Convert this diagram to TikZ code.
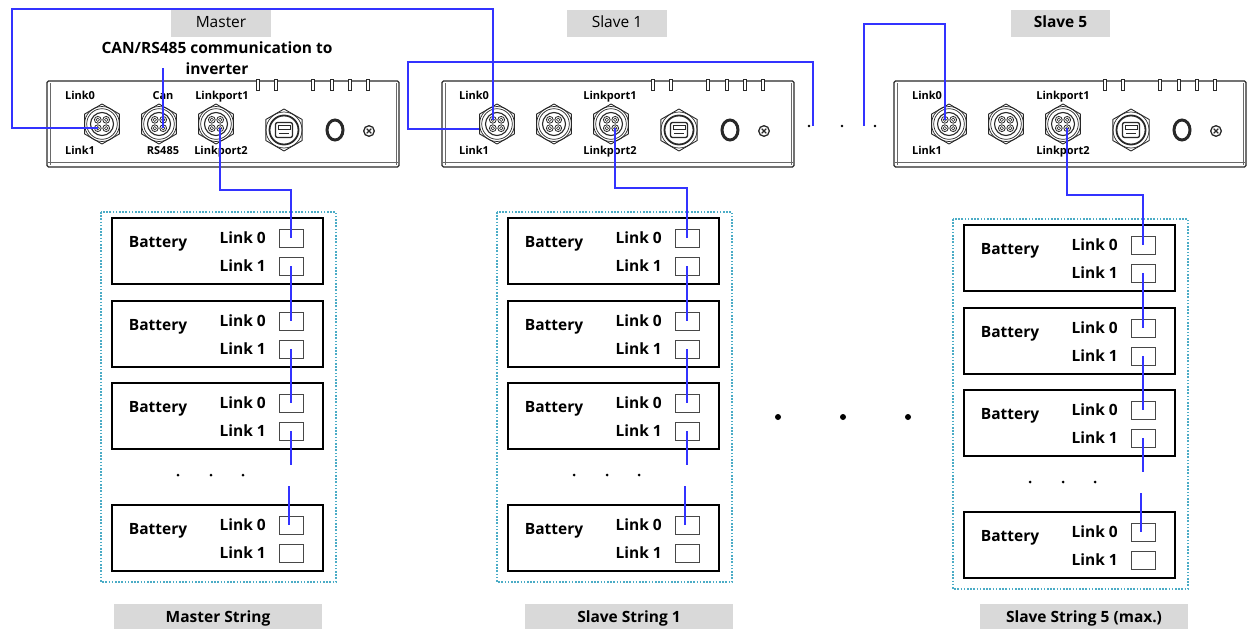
\documentclass[tikz,border=0pt]{standalone}
\usepackage{fontspec}
\setmainfont{Open Sans}
\usetikzlibrary{calc}

\definecolor{wire}{RGB}{51,51,255}
\definecolor{frame}{RGB}{75,172,198}
\definecolor{tag}{RGB}{217,217,217}
\definecolor{body}{RGB}{40,40,40}

\tikzset{
  lbl/.style={font=\fontsize{11}{13}\selectfont\bfseries, inner sep=0pt, anchor=base},
  big/.style={font=\fontsize{15.5}{19}\selectfont\bfseries, inner sep=0pt},
  tagbox/.style={fill=tag, inner sep=0pt, minimum height=27pt, text height=11.5pt, text depth=2pt},
  sq/.style={draw=body!85, line width=0.9pt, fill=white, minimum width=24pt, minimum height=18pt, inner sep=0pt},
  batbox/.style={draw=black, line width=1.4pt},
  strframe/.style={draw=frame, line width=1.3pt, dash pattern=on 1.6pt off 1.6pt},
  wthin/.style={draw=wire, line width=1.6pt},
  wmid/.style={draw=wire, line width=2.2pt},
  wthick/.style={draw=wire, line width=2.6pt},
  part/.style={draw=body, line width=0.9pt},
}

% round four-pin plug with hex nut, drawn around the origin
\newcommand\plug{%
  \draw[part, line join=round] (30:20pt) -- (90:20pt) -- (150:20pt) -- (210:20pt) -- (270:20pt) -- (330:20pt) -- cycle;
  \draw[part, line width=0.7pt] (0,0) circle (17.5pt);
  \draw[part, line width=0.7pt] (0,0) circle (15.3pt);
  \draw[part, line width=1.1pt] (0,0) circle (11.5pt);
  \foreach \px/\py in {-4.2/-4.2,4.2/-4.2,-4.2/4.2,4.2/4.2}{%
    \draw[part, line width=0.8pt] (\px,\py) circle (3.4pt);
    \draw[part, line width=0.6pt] (\px,\py) circle (1.7pt);}%
}
% USB socket with hex nut
\newcommand\usbport{%
  \draw[part, line join=round] (30:21pt) -- (90:21pt) -- (150:21pt) -- (210:21pt) -- (270:21pt) -- (330:21pt) -- cycle;
  \draw[part, line width=0.7pt] (0,0) circle (18pt);
  \draw[part, line width=1.8pt] (0,0) circle (14.5pt);
  \draw[part, line width=1.3pt, rounded corners=2pt] (-8.5,-7.5) rectangle (8.5,7.5);
  \draw[part, line width=0.7pt] (-6,-4.5) rectangle (6,-0.5);
  \draw[part, line width=0.7pt] (-5,3) -- (5,3);
}
\newcommand\oring{\draw[part, line width=3pt] (0,0) ellipse (8pt and 10pt);}
\newcommand\screwhead{%
  \draw[part, line width=1.3pt] (0,0) circle (5.3pt);
  \draw[part, line width=1.1pt] (-2.3,-2.3) -- (2.3,2.3) (-2.3,2.3) -- (2.3,-2.3);}

% control unit: #1 = left edge, #2 = name
\newcommand\device[2]{%
  \begin{scope}[shift={(#1,81)}]
    \draw[body, line width=1.2pt, rounded corners=1.5pt] (0,0) rectangle (352,86);
    \draw[body!70, line width=0.6pt] (3,2) -- (3,84) (349,2) -- (349,84) (1,81) -- (351,81);
    \foreach \tx in {211,229,266,285,303,321}
      \draw[body, line width=0.9pt, fill=white] (\tx-1.8,-1.5) rectangle (\tx+1.8,9);
    \begin{scope}[shift={(55,43)}]\plug\end{scope}
    \begin{scope}[shift={(112,43)}]\plug\end{scope}
    \begin{scope}[shift={(169,43)}]\plug\end{scope}
    \begin{scope}[shift={(237,49)}]\usbport\end{scope}
    \begin{scope}[shift={(288,49)}]\oring\end{scope}
    \begin{scope}[shift={(322,50)}]\screwhead\end{scope}
    \coordinate (#2-l0) at (51,39);
    \coordinate (#2-l1) at (51,47);
    \coordinate (#2-lside) at (37,48);
    \coordinate (#2-can) at (116,47);
    \coordinate (#2-lp2) at (173,47);
  \end{scope}}

% battery string: #1,#2 = shift, #3 = name prefix
\newcommand\batstring[3]{%
  \begin{scope}[shift={(#1,#2)}]
    \draw[strframe] (101,212) rectangle (336,582);
    \foreach \i/\y in {1/218,2/301,3/383,4/505}{
      \draw[batbox] (112,\y) rectangle (323,\y+66);
      \node[big, anchor=base] (#3\i bat) at (158,\y+29) {Battery};
      \node[big, anchor=base east] (#3\i la) at (266,\y+25.5) {Link 0};
      \node[big, anchor=base east] (#3\i lb) at (266,\y+53.5) {Link 1};
      \node[sq] (#3\i a) at (291,\y+20) {};
      \node[sq] (#3\i b) at (291,\y+48) {};
    }
    \foreach \dx in {178,211,243} \fill[black] (\dx,475) circle (1.5pt);
    \coordinate (#3gA) at (291,465);
    \coordinate (#3gB) at (289,486);
  \end{scope}}

\begin{document}
\begin{tikzpicture}[x=1pt,y=-1pt]
\useasboundingbox (0,0) rectangle (1247,629);

% control units
\device{47}{m}
\device{442}{s1}
\device{894}{s5}

% port labels
\node[lbl] (mL0) at (80,99) {Link0};
\node[lbl] (mL1) at (80,154) {Link1};
\node[lbl] (mCan) at (163,99) {Can};
\node[lbl] (mRS) at (163,154) {RS485};
\node[lbl] (mP1) at (222,99) {Linkport1};
\node[lbl] (mP2) at (221,154) {Linkport2};
\node[lbl] (aL0) at (474,99) {Link0};
\node[lbl] (aL1) at (474,154) {Link1};
\node[lbl] (aP1) at (610,99) {Linkport1};
\node[lbl] (aP2) at (610,154) {Linkport2};
\node[lbl] (bL0) at (927,99) {Link0};
\node[lbl] (bL1) at (927,154) {Link1};
\node[lbl] (bP1) at (1063,99) {Linkport1};
\node[lbl] (bP2) at (1063,154) {Linkport2};

% unit titles
\node[tagbox, minimum width=100pt, font=\fontsize{15.5}{19}\selectfont] (tM) at (221,23) {Master};
\node[tagbox, minimum width=100pt, font=\fontsize{15.5}{19}\selectfont] (tA) at (617,23) {Slave 1};
\node[tagbox, minimum width=99pt, font=\fontsize{15.5}{19}\selectfont\bfseries] (tB) at (1060.5,23) {Slave 5};
\node[big, anchor=base] (can1) at (217,53) {CAN/RS485 communication to};
\node[big, anchor=base] (can2) at (217,74) {inverter};

% battery strings
\batstring{0}{0}{ms}
\batstring{396}{0}{as}
\batstring{852}{7}{bs}

% string titles
\node[tagbox, minimum width=208pt, minimum height=25pt, text depth=0pt, font=\fontsize{15.5}{19}\selectfont\bfseries] (sM) at (218,616.5) {Master String};
\node[tagbox, minimum width=208pt, minimum height=25pt, text depth=0pt, font=\fontsize{15.5}{19}\selectfont\bfseries] (sA) at (629,616.5) {Slave String 1};
\node[tagbox, minimum width=208pt, minimum height=25pt, text depth=0pt, font=\fontsize{15.5}{19}\selectfont\bfseries] (sB) at (1084,616.5) {Slave String 5 (max.)};

% ellipsis marks
\foreach \dx in {778,843,908} \fill[black] (\dx,417) circle (3pt);
\foreach \dx in {809,842,875} \fill[black] (\dx,126) circle (1.4pt);

% link bus between units
\coordinate (aEnd) at (813,126);
\coordinate (bStart) at (864,126);
\coordinate (canEnd) at (163,68);
\draw[wthin] (m-l1) -| (12,9) -| (s1-l0);
\draw[wthin] (s1-lside) -| (408,62) -| (aEnd);
\draw[wthin] (bStart) |- (900,24) -| (s5-l0);
\draw[wmid] (canEnd) -- (m-can);

% unit to first battery
\draw[wmid] (m-lp2) |- (250,190) -| (ms1a.center);
\draw[wmid] (s1-lp2) |- (650,188) -| (as1a.center);
\draw[wmid] (s5-lp2) |- (1100,195) -| (bs1a.center);

% daisy chain inside each string
\foreach \p in {ms,as,bs}{
  \draw[wthick] (\p1b.center) -- (\p2a.center);
  \draw[wthick] (\p2b.center) -- (\p3a.center);
  \draw[wthick] (\p3b.center) -- (\p gA);
  \draw[wthick] (\p gB) -- (\p gB |- \p4a.center);
}
\end{tikzpicture}
\end{document}
